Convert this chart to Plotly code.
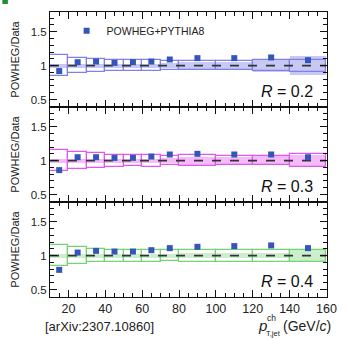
import plotly.graph_objects as go
from plotly.subplots import make_subplots

bin_lo = [10, 20, 30, 40, 50, 60, 70, 80, 100, 120, 140]
bin_hi = [20, 30, 40, 50, 60, 70, 80, 100, 120, 140, 160]

ratio_r02 = [0.92, 1.05, 1.06, 1.04, 1.05, 1.06, 1.09, 1.11, 1.11, 1.12, 1.08]
ratio_r03 = [0.86, 1.05, 1.05, 1.04, 1.04, 1.06, 1.09, 1.10, 1.09, 1.09, 1.05]
ratio_r04 = [0.79, 1.045, 1.07, 1.06, 1.06, 1.08, 1.11, 1.13, 1.14, 1.15, 1.11]

stat_err = [0.01, 0.005, 0.005, 0.005, 0.005, 0.005, 0.005, 0.005, 0.008, 0.01, 0.015]

sys_r02 = [0.15, 0.11, 0.10, 0.085, 0.085, 0.085, 0.07, 0.07, 0.07, 0.08, 0.09]
sys_r03 = [0.155, 0.12, 0.11, 0.09, 0.08, 0.09, 0.07, 0.08, 0.07, 0.07, 0.10]
sys_r04 = [0.16, 0.12, 0.10, 0.09, 0.09, 0.09, 0.08, 0.09, 0.09, 0.09, 0.09]

th_r02 = [0.03, 0.03, 0.03, 0.03, 0.03, 0.03, 0.04, 0.06, 0.06, 0.10, 0.14]
th_r03 = [0.03, 0.03, 0.03, 0.03, 0.03, 0.03, 0.04, 0.06, 0.06, 0.07, 0.08]
th_r04 = [0.03, 0.03, 0.03, 0.03, 0.03, 0.03, 0.03, 0.04, 0.04, 0.04, 0.08]

labels = ["<i>R</i> = 0.2", "<i>R</i> = 0.3", "<i>R</i> = 0.4"]
line_colors = ["#8080e6", "#e256f2", "#74d474"]
fill_colors = ["rgba(110,110,225,0.38)", "rgba(230,90,240,0.42)", "rgba(120,210,120,0.38)"]
marker_color = "#3356b8"

x_ticks = [20, 40, 60, 80, 100, 120, 140, 160]
y_ticks = [0.5, 1, 1.5]

FONT = "Liberation Sans, Arial, sans-serif"

centers = [(a + b) / 2 for a, b in zip(bin_lo, bin_hi)]
widths = [b - a for a, b in zip(bin_lo, bin_hi)]

fig = make_subplots(rows=3, cols=1, shared_xaxes=True, vertical_spacing=0)

panels = [
    (ratio_r02, sys_r02, th_r02),
    (ratio_r03, sys_r03, th_r03),
    (ratio_r04, sys_r04, th_r04),
]

for i, (ratio, sys, th) in enumerate(panels):
    row = i + 1
    fig.add_trace(go.Bar(
        x=centers, y=[2 * e for e in th], base=[1 - e for e in th], width=widths,
        marker=dict(color=fill_colors[i], line=dict(width=0)),
        showlegend=False, hoverinfo="skip"), row=row, col=1)
    fig.add_trace(go.Bar(
        x=centers, y=[2 * e for e in sys], base=[1 - e for e in sys], width=widths,
        marker=dict(color="rgba(0,0,0,0)", line=dict(color=line_colors[i], width=1.2)),
        showlegend=False, hoverinfo="skip"), row=row, col=1)
    fig.add_trace(go.Scatter(
        x=[bin_lo[0], bin_hi[-1]], y=[1, 1], mode="lines",
        line=dict(color="#333333", width=1.6, dash="dash"),
        showlegend=False, hoverinfo="skip"), row=row, col=1)
    fig.add_trace(go.Scatter(
        x=centers, y=ratio, mode="markers",
        marker=dict(symbol="square", size=6, color=marker_color),
        error_y=dict(type="data", array=stat_err, color=marker_color, thickness=1.2, width=0),
        name="POWHEG+PYTHIA8", showlegend=(i == 0)), row=row, col=1)

for i in range(3):
    xa = "xaxis" if i == 0 else f"xaxis{i+1}"
    ya = "yaxis" if i == 0 else f"yaxis{i+1}"
    fig.layout[xa].update(
        range=[10, 160.3], tickmode="array", tickvals=x_ticks,
        showticklabels=(i == 2), ticks="inside", ticklen=7, tickwidth=1, tickcolor="#111",
        minor=dict(dtick=5, ticks="inside", ticklen=4, tickcolor="#111"),
        showline=True, linecolor="#111", linewidth=1, mirror="allticks",
        showgrid=False, zeroline=False,
        ticklabeloverflow="allow",
        tickfont=dict(size=12.5, color="#222", family=FONT))
    fig.layout[ya].update(
        range=[0.39, 1.79], tickmode="array", tickvals=y_ticks,
        ticks="inside", ticklen=7, tickwidth=1, tickcolor="#111",
        minor=dict(dtick=0.1, ticks="inside", ticklen=4, tickcolor="#111"),
        showline=True, linecolor="#111", linewidth=1, mirror="allticks",
        showgrid=False, zeroline=False,
        tickfont=dict(size=11.5, color="#222", family=FONT),
        title=dict(text="POWHEG/Data", font=dict(size=11, color="#222", family=FONT), standoff=8))
    fig.add_annotation(
        xref=f"x{'' if i == 0 else i+1} domain", yref=f"y{'' if i == 0 else i+1} domain",
        x=0.958, y=0.16, xanchor="right", yanchor="middle", showarrow=False,
        text=labels[i], font=dict(size=16, color="#111", family=FONT))

fig.add_annotation(xref="paper", yref="paper", x=0.18, y=-0.105, xanchor="center", yanchor="middle",
                   showarrow=False, text="[arXiv:2307.10860]",
                   font=dict(size=13, color="#222", family=FONT))
fig.add_annotation(xref="paper", yref="paper", x=0.745, y=-0.1, xanchor="left", yanchor="middle",
                   showarrow=False, text="<i>p</i>", font=dict(size=15, color="#222", family=FONT))
fig.add_annotation(xref="paper", yref="paper", x=0.776, y=-0.074, xanchor="left", yanchor="middle",
                   showarrow=False, text="ch", font=dict(size=8.5, color="#222", family=FONT))
fig.add_annotation(xref="paper", yref="paper", x=0.772, y=-0.128, xanchor="left", yanchor="middle",
                   showarrow=False, text="T,jet", font=dict(size=7.5, color="#222", family=FONT))
fig.add_annotation(xref="paper", yref="paper", x=0.834, y=-0.103, xanchor="left", yanchor="middle",
                   showarrow=False, text="(GeV/<i>c</i>)", font=dict(size=14, color="#222", family=FONT))

fig.add_shape(type="rect", xref="paper", yref="paper", x0=-0.172, x1=-0.152, y0=1.028, y1=1.045,
              fillcolor="#1f8f3a", line=dict(width=0))

fig.update_layout(
    width=347, height=339,
    margin=dict(l=50, r=10, t=12, b=42),
    paper_bgcolor="white", plot_bgcolor="white",
    barmode="overlay", bargap=0,
    font=dict(family=FONT, color="#222"),
    showlegend=True,
    legend=dict(x=0.06, y=0.985, xanchor="left", yanchor="top", bgcolor="rgba(0,0,0,0)",
                font=dict(size=10.5, color="#222", family=FONT), itemwidth=30),
)

fig.write_html("out.html")
